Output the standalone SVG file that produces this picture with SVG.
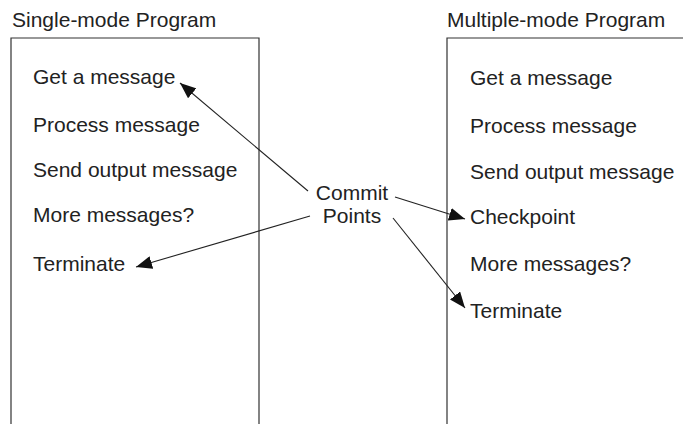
<svg xmlns="http://www.w3.org/2000/svg" width="683" height="424" viewBox="0 0 683 424">
<style>
text{font-family:"Liberation Sans",Arial,sans-serif;font-size:21px;fill:#222}
.box{fill:none;stroke:#333;stroke-width:1.2}
.c{stroke:#222;stroke-width:1.1;fill:none;marker-end:url(#ah)}
</style>
<defs>
<marker id="ah" markerUnits="userSpaceOnUse" markerWidth="17" markerHeight="13" refX="16" refY="6.5" orient="auto">
<path d="M0,0 L16,6.5 L0,13 Z" fill="#111"/>
</marker>
</defs>
<rect width="683" height="424" fill="#fff"/>
<g id="single">
<text x="12" y="27">Single-mode Program</text>
<path class="box" d="M11,424 V38 H259 V424"/>
<text x="33" y="84">Get a message</text>
<text x="33" y="132">Process message</text>
<text x="33" y="177">Send output message</text>
<text x="33" y="222">More messages?</text>
<text x="33" y="271">Terminate</text>
</g>
<g id="multiple">
<text x="447" y="27">Multiple-mode Program</text>
<path class="box" d="M447,424 V38 H683"/>
<text x="470" y="85">Get a message</text>
<text x="470" y="133">Process message</text>
<text x="470" y="179">Send output message</text>
<text x="470" y="224">Checkpoint</text>
<text x="470" y="271">More messages?</text>
<text x="470" y="318">Terminate</text>
</g>
<g id="commit">
<text x="352" y="200" text-anchor="middle">Commit</text>
<text x="352" y="223" text-anchor="middle">Points</text>
</g>
<g id="connectors">
<line class="c" x1="308" y1="191" x2="180" y2="83"/>
<line class="c" x1="310" y1="216" x2="136" y2="267"/>
<line class="c" x1="395" y1="197" x2="465" y2="219"/>
<line class="c" x1="393" y1="218" x2="465" y2="308"/>
</g>
</svg>
